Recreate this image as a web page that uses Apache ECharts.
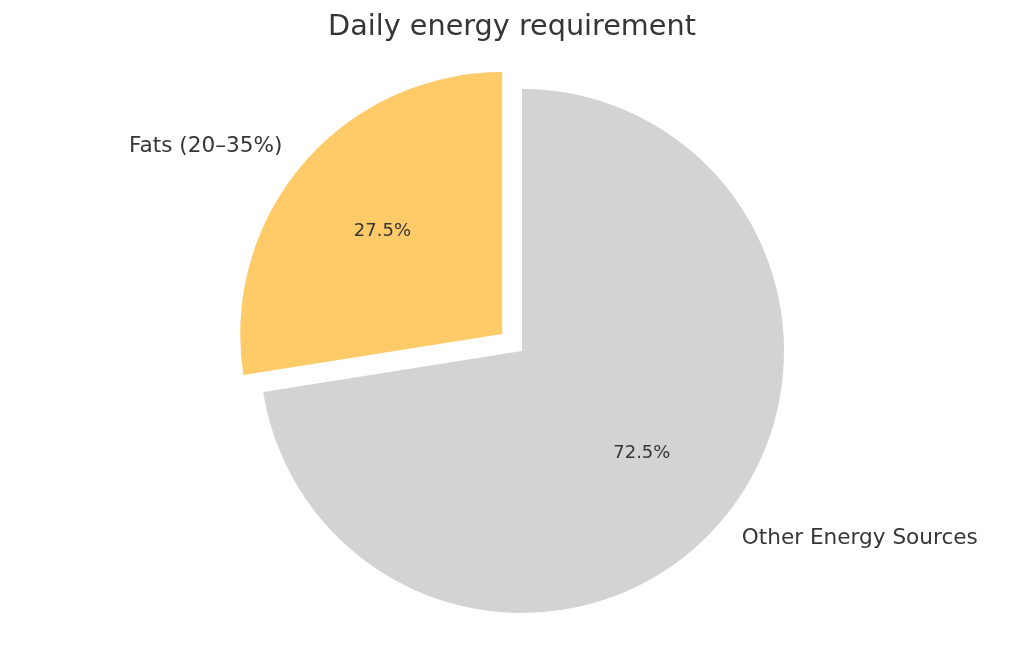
<!DOCTYPE html>
<html>
<head>
<meta charset="utf-8">
<script src="https://cdn.jsdelivr.net/npm/echarts@6/dist/echarts.min.js"></script>
<style>
html,body{margin:0;padding:0;background:#fff;}
#chart{width:1024px;height:653px;}
</style>
</head>
<body>
<div id="chart"></div>
<script>
const titleText = 'Daily energy requirement';
const categories = ['Fats (20–35%)', 'Other Energy Sources'];
const values = [27.5, 72.5];
const colors = ['#FFCA68', '#D3D3D3'];
const exploded = [true, false];

const chart = echarts.init(document.getElementById('chart'));
const FONT = 'DejaVu Sans';
const R = 262;
const C = [522, 351];

const mainData = categories.map((c, i) => ({
  name: c, value: values[i], selected: exploded[i],
  itemStyle: { color: colors[i] }
}));
const pctData = categories.map((c, i) => ({
  name: c, value: values[i], selected: exploded[i],
  itemStyle: { color: 'rgba(0,0,0,0)' }
}));

chart.setOption({
  animation: false,
  backgroundColor: '#ffffff',
  title: {
    text: titleText,
    left: 'center',
    top: 8,
    textStyle: { fontFamily: FONT, fontSize: 28.7, fontWeight: 'normal', color: '#363636' }
  },
  series: [
    {
      type: 'pie',
      center: C,
      radius: [0, R],
      startAngle: 90,
      clockwise: false,
      selectedMode: 'single',
      selectedOffset: 26,
      avoidLabelOverlap: false,
      silent: true,
      data: mainData,
      label: {
        show: true,
        position: 'outer',
        fontFamily: FONT,
        fontSize: 21.6,
        color: '#363636',
        distanceToLabelLine: 0,
        formatter: '{b}'
      },
      labelLine: { show: false, length: 27, length2: 0 },
      emphasis: { disabled: true }
    },
    {
      type: 'pie',
      center: C,
      radius: [R * 0.18, R],
      startAngle: 90,
      clockwise: false,
      selectedMode: 'single',
      selectedOffset: 26,
      avoidLabelOverlap: false,
      silent: true,
      data: pctData,
      label: {
        show: true,
        position: 'inside',
        fontFamily: FONT,
        fontSize: 18,
        color: '#363636',
        formatter: p => p.value.toFixed(1) + '%'
      },
      labelLine: { show: false },
      emphasis: { disabled: true }
    }
  ]
});
</script>
</body>
</html>
